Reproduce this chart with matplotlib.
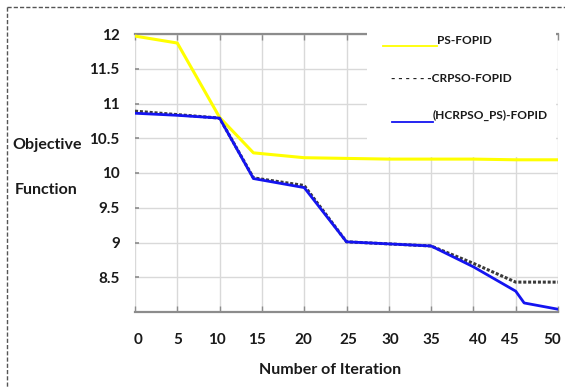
import matplotlib
matplotlib.use("Agg")
import matplotlib.pyplot as plt
import matplotlib.transforms as mtransforms
from matplotlib.lines import Line2D
from matplotlib.patches import Rectangle

# Convergence of the objective function for the three tuning methods
iter_ps = [0, 5, 10, 14, 20, 25, 30, 35, 40, 45, 50]
obj_ps = [11.97, 11.87, 10.80, 10.29, 10.22, 10.21, 10.20, 10.20, 10.20, 10.19, 10.19]

iter_crpso = [0, 5, 10, 14, 20, 25, 30, 35, 40, 45, 50]
obj_crpso = [10.89, 10.84, 10.79, 9.93, 9.82, 9.01, 8.98, 8.95, 8.70, 8.43, 8.43]

iter_hyb = [0, 5, 10, 14, 20, 25, 30, 35, 40, 45, 46, 50]
obj_hyb = [10.86, 10.83, 10.79, 9.92, 9.79, 9.01, 8.98, 8.95, 8.65, 8.30, 8.13, 8.04]

x_ticks = [0, 5, 10, 15, 20, 25, 30, 35, 40, 45, 50]
y_ticks = [8.5, 9, 9.5, 10, 10.5, 11, 11.5, 12]
y_tick_labels = ["8.5", "9", "9.5", "10", "10.5", "11", "11.5", "12"]

W, H = 565, 387
FONT = "Lato"
plt.rcParams["font.family"] = [FONT, "DejaVu Sans"]

fig = plt.figure(figsize=(W / 100, H / 100), dpi=100)
ax = fig.add_axes([135 / W, 1 - 312 / H, (558 - 135) / W, (312 - 34) / H])

ax.set_xlim(0, 50)
ax.set_ylim(8, 12)

# data lines
ax.plot(iter_ps, obj_ps, color="#ffff00", lw=2.2, zorder=5, solid_joinstyle="round")
ax.plot(iter_crpso, obj_crpso, color="#3a3a3a", lw=2.2, linestyle=(0, (1, 0.6)), zorder=4)
ax.plot(iter_hyb, obj_hyb, color="#1414f0", lw=2.0, zorder=6, solid_joinstyle="round")

# grid and axes styling
ax.set_xticks(x_ticks)
ax.set_yticks(y_ticks)
ax.set_yticklabels(y_tick_labels)
ax.grid(True, color="#d9d9d9", lw=1.0, zorder=0)
ax.set_axisbelow(True)
for side in ("left", "right"):
    ax.spines[side].set_visible(False)
for side in ("top", "bottom"):
    ax.spines[side].set_color("#8c8c8c")
    ax.spines[side].set_linewidth(1.6)
ax.tick_params(axis="x", direction="in", length=4, width=1, color="#8c8c8c",
               top=True, pad=15, labelsize=11)
ax.tick_params(axis="y", direction="in", length=3, width=1.2, color="#8c8c8c",
               pad=11, labelsize=11)
for lab in ax.get_xticklabels() + ax.get_yticklabels():
    lab.set_fontweight("bold")
    lab.set_color("#1a1a1a")

# small horizontal nudges of the x tick labels (pixels)
x_label_nudge = [3, 0, -3, -5, -1, 2, 2, 0, 4, -6, -6]
for lab, dx in zip(ax.get_xticklabels(), x_label_nudge):
    lab.set_transform(lab.get_transform() +
                      mtransforms.ScaledTranslation(dx / 100, 0, fig.dpi_scale_trans))

# white legend panel covering the upper right of the plot
ax.add_patch(Rectangle((27.4, 10.225), 22.4, 1.85, facecolor="white",
                       edgecolor="none", zorder=3, clip_on=False))

# legend entries
def fx(px):
    return px / W

def fy(py):
    return 1 - py / H

fig.add_artist(Line2D([fx(383), fx(437)], [fy(45.5), fy(45.5)], color="#ffff00", lw=1.3))
fig.text(fx(437), fy(40), "PS-FOPID", fontsize=8.6, fontweight="bold",
         va="center", ha="left", color="#1a1a1a")
fig.text(fx(391), fy(78), "- - - - - -CRPSO-FOPID", fontsize=8.6, fontweight="bold",
         va="center", ha="left", color="#1a1a1a")
fig.add_artist(Line2D([fx(392), fx(433)], [fy(121.5), fy(121.5)], color="#1414f0", lw=1.3))
fig.text(fx(433), fy(115.5), "(HCRPSO_PS)-FOPID", fontsize=8.6, fontweight="bold",
         va="center", ha="left", color="#1a1a1a")

# axis titles
fig.text(fx(47), fy(145), "Objective", fontsize=11.5, fontweight="bold",
         ha="center", va="center", color="#1a1a1a")
fig.text(fx(46), fy(190), "Function", fontsize=11.5, fontweight="bold",
         ha="center", va="center", color="#1a1a1a")
fig.text(fx(330), fy(370), "Number of Iteration", fontsize=11.5, fontweight="bold",
         ha="center", va="center", color="#1a1a1a")

# dashed frame
frame_kw = dict(color="#555555", lw=1.0, linestyle=(0, (3, 1.5)))
fig.add_artist(Line2D([fx(6.5), 1.0], [fy(6.5), fy(6.5)], **frame_kw))
fig.add_artist(Line2D([fx(6.5), fx(6.5)], [fy(6.5), 0.0], **frame_kw))

fig.savefig("out.png", dpi=100)
